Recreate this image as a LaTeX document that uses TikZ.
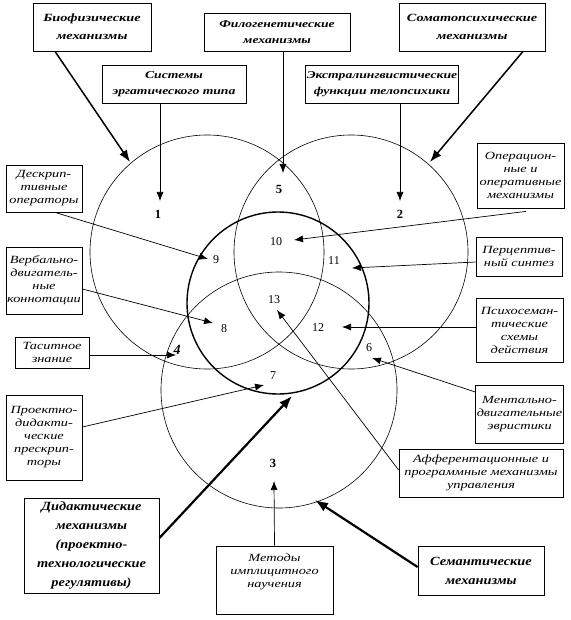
\documentclass[tikz,border=0pt]{standalone}
\usepackage{fontspec}
\setmainfont{Liberation Serif}
\newfontfamily\wideserif[FakeStretch=1.3]{Liberation Serif}
\newfontfamily\heavyserif[FakeStretch=1.15]{Liberation Serif}
\usetikzlibrary{arrows.meta}

\begin{document}
\begin{tikzpicture}[x=1pt,y=-1pt,
    box/.style={draw,line width=0.8pt,inner sep=1pt,align=center,
      font=\wideserif\itshape\fontsize{11}{13}\selectfont},
    bigbox/.style={box,font=\wideserif\bfseries\itshape\fontsize{11}{18}\selectfont},
    midbox/.style={box,font=\wideserif\bfseries\itshape\fontsize{10.5}{16}\selectfont},
    heavybox/.style={box,font=\heavyserif\bfseries\itshape\fontsize{12.5}{19}\selectfont},
    ring/.style={line width=0.6pt},
    num/.style={inner sep=0pt,font=\fontsize{12}{12}\selectfont},
    bignum/.style={inner sep=0pt,font=\bfseries\fontsize{12.5}{12.5}\selectfont},
    ptr/.style={line width=0.7pt,-{Latex[length=9pt,width=7pt]}},
    boldptr/.style={line width=1.5pt,-{Latex[length=12pt,width=9pt]}},
    fatptr/.style={line width=2.2pt,-{Latex[length=13pt,width=10pt]}}]
    \useasboundingbox[fill=white] (0,0) rectangle (570,620);

    % circles
    \draw[ring] (207,252) circle[radius=117pt];
    \draw[ring] (351,252) circle[radius=117pt];
    \draw[ring] (279,390) circle[radius=118pt];
    \draw[line width=1.4pt] (278,303) circle[radius=91pt];

    % zone numbers
    \node[bignum] (n1) at (158,214) {1};
    \node[bignum] (n2) at (400,214) {2};
    \node[bignum] (n3) at (273,463) {3};
    \node[bignum] (n5) at (279,189) {5};
    \node[inner sep=0pt,font=\bfseries\itshape\fontsize{14}{14}\selectfont] (n4) at (177,350) {4};
    \node[num] (n6) at (369,348) {6};
    \node[num] (n7) at (273,376) {7};
    \node[num] (n8) at (224,329) {8};
    \node[num] (n9) at (216,260) {9};
    \node[num] (n10) at (276,242) {10};
    \node[num] (n11) at (334,261) {11};
    \node[num] (n12) at (318,328) {12};
    \node[num] (n13) at (274,300) {13};

    % top boxes
    \node[bigbox,minimum width=118pt,minimum height=48pt] (bio) at (92,27) {Биофизические\\механизмы};
    \node[midbox,minimum width=146pt,minimum height=38pt] (philo) at (277,32) {Филогенетические\\механизмы};
    \node[bigbox,minimum width=146pt,minimum height=48pt] (soma) at (472,27) {Соматопсихические\\механизмы};
    \node[midbox,minimum width=144pt,minimum height=38pt] (erg) at (174,84) {Системы\\эргатического типа};
    \node[midbox,minimum width=152pt,minimum height=38pt] (extra) at (382,84) {Экстралингвистические\\функции телопсихики};

    % left boxes
    \node[box,minimum width=76pt,minimum height=47pt] (descr) at (44,188.5) {Дескрип-\\тивные\\операторы};
    \node[box,minimum width=76pt,minimum height=67pt] (verb) at (44,280.5) {Вербально-\\двигатель-\\ные\\коннотации};
    \node[box,minimum width=74pt,minimum height=31pt] (tacit) at (52,352.5) {Таситное\\знание};
    \node[box,minimum width=76pt,minimum height=85pt] (proj) at (44,437.5) {Проектно-\\дидакти-\\ческие\\прескрип-\\торы};
    \node[heavybox,minimum width=135pt,minimum height=95pt] (did) at (91.5,545.5) {Дидактические\\механизмы\\(проектно-\\технологические\\регулятивы)};

    % bottom boxes
    \node[box,minimum width=117pt,minimum height=68pt] (meth) at (274.5,580) {Методы\\имплицитного\\научения\\[6pt]};
    \node[heavybox,minimum width=126pt,minimum height=49pt] (sem) at (481,570.5) {Семантические\\механизмы};

    % right boxes
    \node[box,minimum width=87pt,minimum height=65pt] (oper) at (520.5,175.5) {Операцион-\\ные и\\оперативные\\механизмы};
    \node[box,minimum width=86pt,minimum height=39pt] (perc) at (519,256.5) {Перцептив-\\ный синтез};
    \node[box,minimum width=87pt,minimum height=64pt] (psy) at (519.5,330) {Психосеман-\\тические\\схемы\\действия};
    \node[box,minimum width=85pt,minimum height=58pt] (ment) at (519.5,414) {Ментально-\\двигательные\\эвристики};
    \node[box,minimum width=164pt,minimum height=48pt] (aff) at (481,473) {Афферентационные и\\программные механизмы\\управления};

    % arrow tips
    \coordinate (bioTip) at (130,162);
    \coordinate (philoTip) at (283,173);
    \coordinate (somaTip) at (430,162);
    \coordinate (ergTip) at (160,201);
    \coordinate (extraTip) at (400,201);
    \coordinate (descrTip) at (208,259);
    \coordinate (verbTip) at (213,323);
    \coordinate (tacitTip) at (176,355);
    \coordinate (projTip) at (264,385);
    \coordinate (didTip) at (292,396);
    \coordinate (methTip) at (274,481);
    \coordinate (semTip) at (315,500);
    \coordinate (affTip) at (277,310);
    \coordinate (mentTip) at (372,358);
    \coordinate (psyTip) at (342,327);
    \coordinate (percTip) at (352,268);
    \coordinate (operTip) at (294,240);

    % connectors
    \draw[boldptr] ([xshift=-37pt]bio.south) -- (bioTip);
    \draw[ptr] ([xshift=6pt]philo.south) -- (philoTip);
    \draw[boldptr] ([xshift=51pt]soma.south) -- (somaTip);
    \draw[ptr] ([xshift=-14pt]erg.south) -- (ergTip);
    \draw[ptr] ([xshift=18pt]extra.south) -- (extraTip);
    \draw[ptr] ([xshift=11pt]descr.south) -- (descrTip);
    \draw[ptr] ([yshift=-8.5pt]verb.east) -- (verbTip);
    \draw[ptr] ([yshift=-2.5pt]tacit.east) -- (tacitTip);
    \draw[ptr] ([yshift=10.5pt]proj.east) -- (projTip);
    \draw[fatptr] ([yshift=7.5pt]did.east) -- (didTip);
    \draw[ptr] (meth.north) -- (methTip);
    \draw[fatptr] ([yshift=3.5pt]sem.west) -- (semTip);
    \draw[ptr] ([yshift=3pt]aff.west) -- (affTip);
    \draw[ptr] ([yshift=22pt]ment.west) -- (mentTip);
    \draw[ptr] ([yshift=3pt]psy.west) -- (psyTip);
    \draw[ptr] ([yshift=-5.5pt]perc.west) -- (percTip);
    \draw[ptr] ([xshift=5.5pt,yshift=-3pt]oper.south) -- (operTip);
\end{tikzpicture}
\end{document}
